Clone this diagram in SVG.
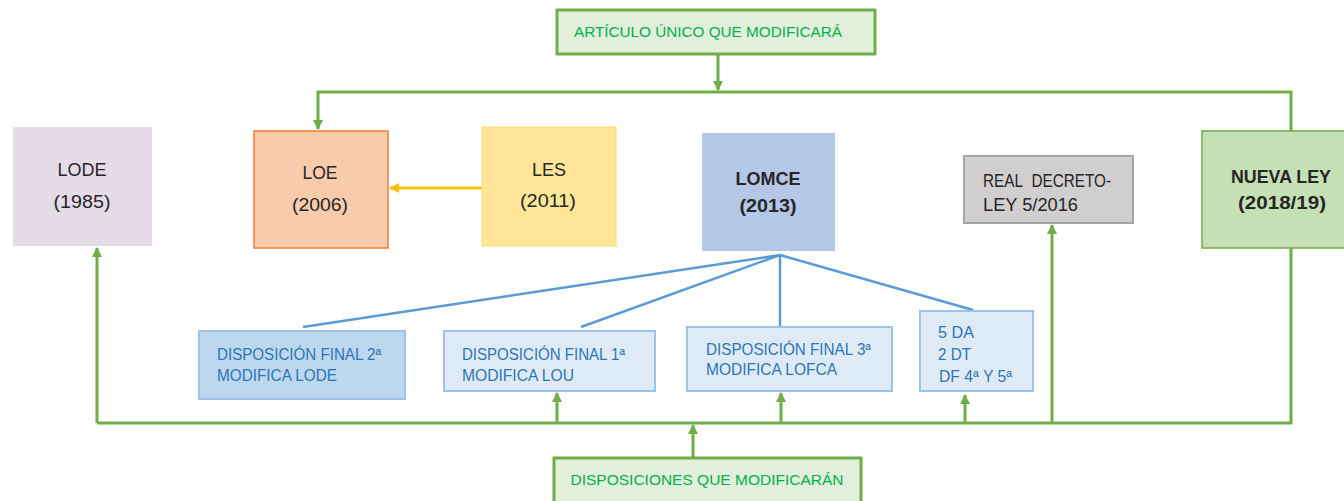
<svg xmlns="http://www.w3.org/2000/svg" width="1344" height="501" viewBox="0 0 1344 501">
<defs>
<marker id="ag" markerWidth="10" markerHeight="10" refX="9" refY="5" orient="auto" markerUnits="userSpaceOnUse"><path d="M0,0 L10,5 L0,10 Z" fill="#70AD47"/></marker>
<marker id="ay" markerWidth="10" markerHeight="10" refX="9" refY="5" orient="auto" markerUnits="userSpaceOnUse"><path d="M0,0 L10,5 L0,10 Z" fill="#FFC000"/></marker>
</defs>
<style>
text{font-family:"Liberation Sans",Arial,sans-serif}
.t{font-size:18px;fill:#262626;text-anchor:middle}
.s{text-anchor:start}
.b{font-weight:bold}
.g{font-size:15px;fill:#00B050;text-anchor:middle}
.d{font-size:16px;fill:#2E75B6}
.gl{fill:none;stroke:#70AD47;stroke-width:3}
.bl{fill:none;stroke:#5B9BD5;stroke-width:2.5}
</style>
<rect width="1344" height="501" fill="#fff"/>
<g id="connectors">
<path class="gl" d="M718,54 V90" marker-end="url(#ag)"/>
<path class="gl" d="M1291,132 V92 H318 V129" marker-end="url(#ag)"/>
<path d="M482,188 H390" stroke="#FFC000" stroke-width="3" marker-end="url(#ay)"/>
<path class="bl" d="M780,255 L303,327 M780,255 L581,327 M780,255 V327 M780,255 L973,310"/>
<path class="gl" d="M1291,248 V423 H97"/>
<path class="gl" d="M97,423 V248" marker-end="url(#ag)"/>
<path class="gl" d="M557,423 V393" marker-end="url(#ag)"/>
<path class="gl" d="M781,423 V393" marker-end="url(#ag)"/>
<path class="gl" d="M965,423 V395" marker-end="url(#ag)"/>
<path class="gl" d="M1052,423 V225" marker-end="url(#ag)"/>
<path class="gl" d="M693,457 V425" marker-end="url(#ag)"/>
</g>
<g id="n-articulo">
<rect x="557" y="10" width="318" height="44" fill="#E2EFDA" stroke="#70AD47" stroke-width="3"/>
<text class="g" x="708" y="37" textLength="268" lengthAdjust="spacingAndGlyphs">ARTÍCULO ÚNICO QUE MODIFICARÁ</text>
</g>
<g id="n-lode">
<rect x="13" y="127" width="139" height="119" fill="#E6DCE8"/>
<text class="t" x="82" y="176" textLength="49" lengthAdjust="spacingAndGlyphs">LODE</text>
<text class="t" x="82" y="208" textLength="57" lengthAdjust="spacingAndGlyphs">(1985)</text>
</g>
<g id="n-loe">
<rect x="254" y="131" width="134" height="117" fill="#F8CBAD" stroke="#ED7D31" stroke-width="1.5"/>
<text class="t" x="320" y="179" textLength="35" lengthAdjust="spacingAndGlyphs">LOE</text>
<text class="t" x="320" y="211" textLength="56" lengthAdjust="spacingAndGlyphs">(2006)</text>
</g>
<g id="n-les">
<rect x="482" y="127" width="134" height="119" fill="#FFE699" stroke="#FFD966" stroke-width="1"/>
<text class="t" x="549" y="176" textLength="34" lengthAdjust="spacingAndGlyphs">LES</text>
<text class="t" x="548" y="207" textLength="56" lengthAdjust="spacingAndGlyphs">(2011)</text>
</g>
<g id="n-lomce">
<rect x="702" y="133" width="133" height="118" fill="#B4C7E7"/>
<text class="t b" x="768" y="185" textLength="65" lengthAdjust="spacingAndGlyphs">LOMCE</text>
<text class="t b" x="768" y="212" textLength="57" lengthAdjust="spacingAndGlyphs">(2013)</text>
</g>
<g id="n-rdl">
<rect x="964" y="156" width="169" height="67" fill="#D0CECE" stroke="#A5A5A5" stroke-width="2"/>
<text class="t s" x="983" y="187" textLength="128" lengthAdjust="spacingAndGlyphs">REAL&#160; DECRETO-</text>
<text class="t s" x="983" y="211" textLength="95" lengthAdjust="spacingAndGlyphs">LEY 5/2016</text>
</g>
<g id="n-nueva">
<rect x="1202" y="131" width="145" height="117" fill="#C5E0B4" stroke="#70AD47" stroke-width="1.5"/>
<text class="t b" x="1281" y="183" textLength="100" lengthAdjust="spacingAndGlyphs">NUEVA LEY</text>
<text class="t b" x="1282" y="209" textLength="88" lengthAdjust="spacingAndGlyphs">(2018/19)</text>
</g>
<g id="n-df2">
<rect x="199" y="331" width="206" height="68" fill="#BDD7EE" stroke="#9DC3E6" stroke-width="2"/>
<text class="d" x="217" y="360" textLength="164" lengthAdjust="spacingAndGlyphs">DISPOSICIÓN FINAL 2ª</text>
<text class="d" x="217" y="381" textLength="120" lengthAdjust="spacingAndGlyphs">MODIFICA LODE</text>
</g>
<g id="n-df1">
<rect x="444" y="331" width="211" height="60" fill="#DEEBF7" stroke="#9DC3E6" stroke-width="2"/>
<text class="d" x="462" y="360" textLength="163" lengthAdjust="spacingAndGlyphs">DISPOSICIÓN FINAL 1ª</text>
<text class="d" x="462" y="381" textLength="112" lengthAdjust="spacingAndGlyphs">MODIFICA LOU</text>
</g>
<g id="n-df3">
<rect x="687" y="327" width="205" height="64" fill="#DEEBF7" stroke="#9DC3E6" stroke-width="2"/>
<text class="d" x="706" y="355" textLength="165" lengthAdjust="spacingAndGlyphs">DISPOSICIÓN FINAL 3ª</text>
<text class="d" x="706" y="375" textLength="131" lengthAdjust="spacingAndGlyphs">MODIFICA LOFCA</text>
</g>
<g id="n-da">
<rect x="920" y="311" width="113" height="80" fill="#DEEBF7" stroke="#9DC3E6" stroke-width="2"/>
<text class="d" x="938" y="338" textLength="36" lengthAdjust="spacingAndGlyphs">5 DA</text>
<text class="d" x="938" y="360" textLength="33" lengthAdjust="spacingAndGlyphs">2 DT</text>
<text class="d" x="939" y="382" textLength="73" lengthAdjust="spacingAndGlyphs">DF 4ª Y 5ª</text>
</g>
<g id="n-disposiciones">
<rect x="554" y="458" width="307" height="46" fill="#E2EFDA" stroke="#70AD47" stroke-width="3"/>
<text class="g" x="707" y="485" textLength="273" lengthAdjust="spacingAndGlyphs">DISPOSICIONES QUE MODIFICARÁN</text>
</g>
</svg>
